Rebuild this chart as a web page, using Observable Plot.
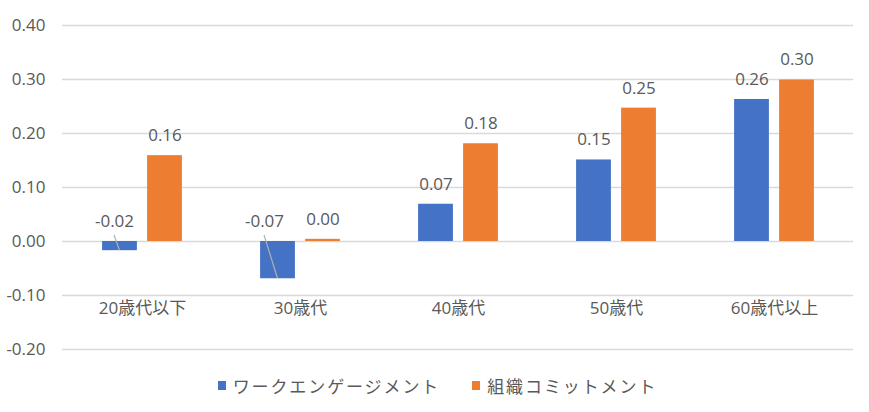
<!DOCTYPE html>
<html><head><meta charset="utf-8">
<script src="https://cdn.jsdelivr.net/npm/d3@7"></script>
<script src="https://cdn.jsdelivr.net/npm/@observablehq/plot@0.6"></script>
<style>
body{margin:0;background:#fff;width:869px;height:412px;overflow:hidden;font-family:"Open Sans","Noto Sans CJK JP",sans-serif;}
#legend{height:46px;display:flex;justify-content:center;align-items:center;gap:32px;color:#595959;font-size:17px;letter-spacing:1.9px;padding-left:6px;}
.item{display:flex;align-items:center;}
.sw{width:8px;height:9px;margin-right:7px;display:inline-block;}
</style></head>
<body><div id="chart"></div><div id="legend"></div>
<script>
const categories = ["20歳代以下", "30歳代", "40歳代", "50歳代", "60歳代以上"];
const seriesNames = ["ワークエンゲージメント", "組織コミットメント"];
const engagement = [-0.017, -0.069, 0.069, 0.151, 0.263];
const commitment = [0.159, 0.004, 0.181, 0.247, 0.299];
const colors = ["#4472C4", "#ED7D31"];
const yTicks = [-0.2, -0.1, 0, 0.1, 0.2, 0.3, 0.4];

const blue = categories.map((c, i) => ({category: c, series: seriesNames[0], value: engagement[i]}));
const orange = categories.map((c, i) => ({category: c, series: seriesNames[1], value: commitment[i]}));
const fmt = d => d.value.toFixed(2);
const textColor = "#595959";

// leader lines for negative labels, drawn through Plot's scales
function leaders(index, scales) {
  const g = d3.create("svg:g");
  const x = scales.x, y = scales.y;
  const bw = x.bandwidth ? x.bandwidth() : 0;
  const offsets = {"20歳代以下": -28, "30歳代": -36};
  for (const d of blue) {
    if (d.value >= 0) continue;
    const cx = x(d.category) + bw / 2;
    const x2 = cx - 22.5, y2 = y(d.value);
    const x1 = cx + offsets[d.category], y1 = y(0) - 6;
    g.append("line").attr("x1", x1).attr("y1", y1).attr("x2", x2).attr("y2", y2)
      .attr("stroke", "#b0b0b0").attr("stroke-width", 1.2);
  }
  return g.node();
}

const chart = Plot.plot({
  width: 869, height: 362,
  marginLeft: 62, marginRight: 16, marginTop: 25, marginBottom: 13,
  style: {fontFamily: "'Open Sans','Noto Sans CJK JP',sans-serif", fontSize: "17px", color: textColor, background: "#fff"},
  x: {domain: categories, padding: 0, axis: null},
  y: {domain: [-0.2, 0.4], ticks: 6, tickFormat: d => d.toFixed(2), tickSize: 0, tickPadding: 17, label: null},
  marks: [
    Plot.ruleY(yTicks, {stroke: "#d9d9d9", strokeWidth: 1.3}),
    Plot.barY(blue, {x: "category", y: "value", fill: colors[0], insetLeft: 39.1, insetRight: 84.1}),
    Plot.barY(orange, {x: "category", y: "value", fill: colors[1], insetLeft: 84.1, insetRight: 39.1}),
    Plot.text(blue.filter(d => d.value >= 0), {x: "category", y: "value", text: fmt, dx: -22.5, dy: -20, fill: textColor}),
    Plot.text(orange, {x: "category", y: "value", text: fmt, dx: 22.5, dy: -20, fill: textColor}),
    Plot.text(blue.filter(d => d.category === "20歳代以下"), {x: "category", y: d => Math.max(d.value, 0), text: fmt, dx: -28, dy: -20, fill: textColor}),
    Plot.text(blue.filter(d => d.category === "30歳代"), {x: "category", y: d => Math.max(d.value, 0), text: fmt, dx: -36, dy: -20, fill: textColor}),
    leaders,
    Plot.text(categories, {x: d => d, frameAnchor: "bottom", dy: -36, fill: textColor})
  ]
});
document.getElementById("chart").appendChild(chart);

const legend = document.getElementById("legend");
seriesNames.forEach((s, i) => {
  const item = document.createElement("div");
  item.className = "item";
  item.innerHTML = `<span class="sw" style="background:${colors[i]}"></span><span>${s}</span>`;
  legend.appendChild(item);
});
</script>
</body></html>
